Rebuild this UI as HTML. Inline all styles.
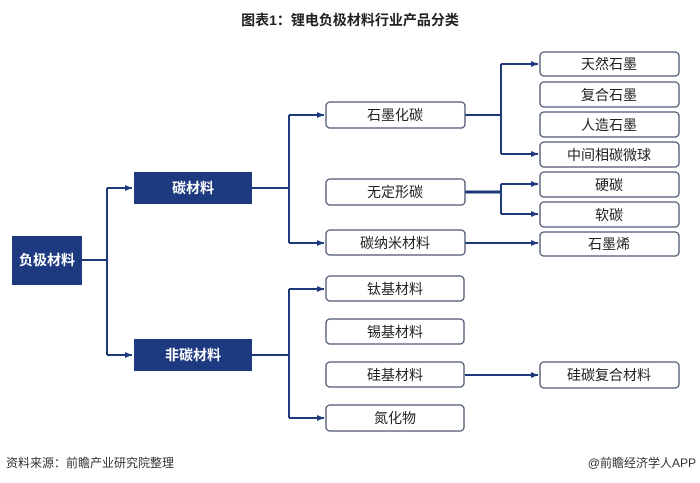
<!DOCTYPE html>
<html><head><meta charset="utf-8"><style>
html,body{margin:0;padding:0;background:#fff;}
svg{display:block;font-family:"Liberation Sans","Noto Sans CJK SC",sans-serif;}
</style></head><body>
<svg width="700" height="483" viewBox="0 0 700 483" xmlns="http://www.w3.org/2000/svg">
<defs><marker id="a" markerWidth="8" markerHeight="8" refX="7" refY="4" orient="auto" markerUnits="userSpaceOnUse"><path d="M0,1 L7,4 L0,7 z" fill="#1f3a7a"/></marker></defs>
<text x="350" y="25" text-anchor="middle" font-size="14" font-weight="bold" fill="#222">图表1：锂电负极材料行业产品分类</text>
<g stroke="#1f3a7a" stroke-width="2" fill="none">
<path d="M82,260 H107"/>
<path d="M107,188 V355"/>
<path d="M107,188 H132" marker-end="url(#a)"/>
<path d="M107,355 H132" marker-end="url(#a)"/>
<path d="M252,188 H289"/>
<path d="M289,115 V243"/>
<path d="M289,115 H324" marker-end="url(#a)"/>
<path d="M289,243 H324" marker-end="url(#a)"/>
<path d="M465,115 H501"/>
<path d="M501,64 V154"/>
<path d="M501,64 H538" marker-end="url(#a)"/>
<path d="M501,154 H538" marker-end="url(#a)"/>
<path d="M465,192 H501" stroke-width="3"/>
<path d="M501,184 V214"/>
<path d="M501,184 H538" marker-end="url(#a)"/>
<path d="M501,214 H538" marker-end="url(#a)"/>
<path d="M465,243 H538" marker-end="url(#a)"/>
<path d="M252,355 H289"/>
<path d="M289,289 V418"/>
<path d="M289,289 H324" marker-end="url(#a)"/>
<path d="M289,418 H324" marker-end="url(#a)"/>
<path d="M465,375 H538" marker-end="url(#a)"/>
</g>
<g fill="#1d3a80">
<rect x="12" y="236" width="70" height="49"/>
<rect x="134" y="172" width="118" height="32"/>
<rect x="134" y="339" width="118" height="32"/>
</g>
<g fill="#fff" font-size="14" font-weight="bold" text-anchor="middle">
<text x="47" y="265">负极材料</text>
<text x="193" y="193">碳材料</text>
<text x="193" y="360">非碳材料</text>
</g>
<g fill="#fff" stroke="#4a5570" stroke-width="1.3">
<rect x="326" y="102" width="139" height="26" rx="4"/>
<rect x="326" y="179" width="139" height="26" rx="4"/>
<rect x="326" y="230" width="139" height="25" rx="4"/>
<rect x="540" y="52" width="139" height="24" rx="4"/>
<rect x="540" y="82" width="139" height="25" rx="4"/>
<rect x="540" y="112" width="139" height="25" rx="4"/>
<rect x="540" y="142" width="139" height="25" rx="4"/>
<rect x="540" y="172" width="139" height="25" rx="4"/>
<rect x="540" y="202" width="139" height="25" rx="4"/>
<rect x="540" y="232" width="139" height="24" rx="4"/>
<rect x="326" y="276" width="138" height="25" rx="4"/>
<rect x="326" y="319" width="138" height="25" rx="4"/>
<rect x="326" y="362" width="138" height="25" rx="4"/>
<rect x="326" y="405" width="138" height="26" rx="4"/>
<rect x="540" y="362" width="139" height="26" rx="4"/>
</g>
<g fill="#222" font-size="14" text-anchor="middle">
<text x="395" y="120">石墨化碳</text>
<text x="395" y="197">无定形碳</text>
<text x="395" y="248">碳纳米材料</text>
<text x="609" y="69">天然石墨</text>
<text x="609" y="100">复合石墨</text>
<text x="609" y="130">人造石墨</text>
<text x="609" y="160">中间相碳微球</text>
<text x="609" y="190">硬碳</text>
<text x="609" y="220">软碳</text>
<text x="609" y="249">石墨烯</text>
<text x="395" y="294">钛基材料</text>
<text x="395" y="337">锡基材料</text>
<text x="395" y="380">硅基材料</text>
<text x="395" y="423">氮化物</text>
<text x="609" y="380">硅碳复合材料</text>
</g>
<text x="6" y="467" font-size="12" fill="#333">资料来源：前瞻产业研究院整理</text>
<text x="696" y="467" font-size="12" fill="#333" text-anchor="end">@前瞻经济学人APP</text>
</svg>
</body></html>
